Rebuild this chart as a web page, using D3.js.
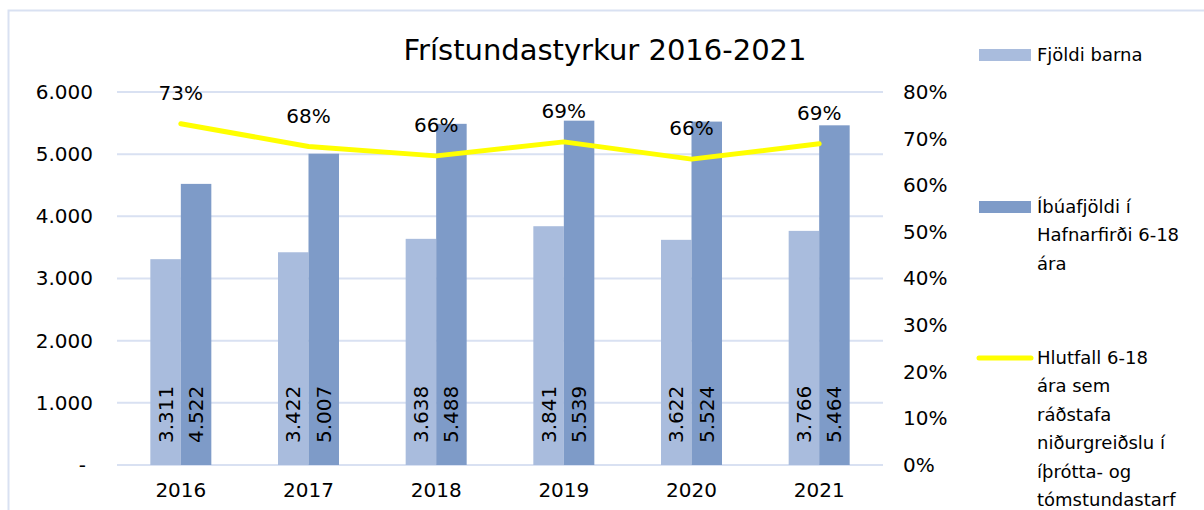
<!DOCTYPE html>
<html>
<head>
<meta charset="utf-8">
<script src="https://cdn.jsdelivr.net/npm/d3@7"></script>
<style>
  body { margin: 0; background: #fff; }
  svg text { font-family: "DejaVu Sans", sans-serif; fill: #000; }
</style>
</head>
<body>
<svg id="chart" width="1204" height="510"></svg>
<script>
var years = ["2016", "2017", "2018", "2019", "2020", "2021"];
var fjoldiBarna = [3311, 3422, 3638, 3841, 3622, 3766];
var ibuafjoldi = [4522, 5007, 5488, 5539, 5524, 5464];
var hlutfall = [0.732, 0.683, 0.663, 0.693, 0.656, 0.689];
var leftTicks = [0, 1000, 2000, 3000, 4000, 5000, 6000];
var rightTicks = [0, 0.1, 0.2, 0.3, 0.4, 0.5, 0.6, 0.7, 0.8];

var legendNames = [
    ["Fjöldi barna"],
    ["Íbúafjöldi í", "Hafnarfirði 6-18", "ára"],
    ["Hlutfall 6-18", "ára sem", "ráðstafa", "niðurgreiðslu í", "íþrótta- og", "tómstundastarf"]
];

var colLight = "#a9bcdd", colDark = "#7e9bc8", colLine = "#ffff00", colGrid = "#d9e1f2";

var svg = d3.select("#chart");
var isl = d3.formatLocale({ decimal: ",", thousands: ".", grouping: [3], currency: ["", " kr."] });
var fmtNum = isl.format(",.0f");
var fmtPct = d3.format(".0%");

// chart frame
svg.append("path").attr("d", "M8.5,510 V10.5 H1204")
    .attr("fill", "none").attr("stroke", colGrid).attr("stroke-width", 2);

var x = d3.scaleBand().domain(years).range([117, 883]).paddingInner(0).paddingOuter(0);
var y = d3.scaleLinear().domain([0, 6000]).range([465, 92]);
var y2 = d3.scaleLinear().domain([0, 0.8]).range([465, 92]);
var barW = 30.5;

// gridlines
svg.append("g").selectAll("line").data(leftTicks).enter().append("line")
    .attr("x1", 117).attr("x2", 883)
    .attr("y1", d => y(d)).attr("y2", d => y(d))
    .attr("stroke", colGrid).attr("stroke-width", 2);

// left axis
var yAxis = d3.axisLeft(y).tickValues(leftTicks).tickSize(0).tickPadding(0)
    .tickFormat(d => d === 0 ? "-" : fmtNum(d));
var gy = svg.append("g").attr("transform", "translate(93,0)").call(yAxis);
gy.select(".domain").remove();
gy.selectAll("text").attr("font-size", 20).style("font-family", "DejaVu Sans").attr("dx", d => d === 0 ? -7 : 0);

// right axis
var y2Axis = d3.axisRight(y2).tickValues(rightTicks).tickSize(0).tickPadding(0).tickFormat(fmtPct);
var gy2 = svg.append("g").attr("transform", "translate(903,0)").call(y2Axis);
gy2.select(".domain").remove();
gy2.selectAll("text").attr("font-size", 20).style("font-family", "DejaVu Sans");

// bottom axis
var xAxis = d3.axisBottom(x).tickSize(0).tickPadding(18);
var gx = svg.append("g").attr("transform", "translate(0,465)").call(xAxis);
gx.select(".domain").remove();
gx.selectAll("text").attr("font-size", 20).style("font-family", "DejaVu Sans");

// bars
var rows = years.map((yr, i) => ({ yr: yr, a: fjoldiBarna[i], b: ibuafjoldi[i], p: hlutfall[i] }));
var cx = d => x(d.yr) + x.bandwidth() / 2;

var bars = svg.append("g");
bars.selectAll("rect.a").data(rows).enter().append("rect").attr("class", "a")
    .attr("x", d => cx(d) - barW).attr("width", barW)
    .attr("y", d => y(d.a)).attr("height", d => y(0) - y(d.a))
    .attr("fill", colLight);
bars.selectAll("rect.b").data(rows).enter().append("rect").attr("class", "b")
    .attr("x", d => cx(d)).attr("width", barW)
    .attr("y", d => y(d.b)).attr("height", d => y(0) - y(d.b))
    .attr("fill", colDark);

// bar labels, rotated, inside base
bars.selectAll("text.a").data(rows).enter().append("text").attr("class", "a")
    .attr("transform", d => "translate(" + (cx(d) - barW / 2 + 7) + "," + (y(0) - 22) + ") rotate(-90)")
    .attr("font-size", 20).text(d => fmtNum(d.a));
bars.selectAll("text.b").data(rows).enter().append("text").attr("class", "b")
    .attr("transform", d => "translate(" + (cx(d) + barW / 2 + 7) + "," + (y(0) - 22) + ") rotate(-90)")
    .attr("font-size", 20).text(d => fmtNum(d.b));

// line
var line = d3.line().x(d => cx(d)).y(d => y2(d.p));
svg.append("path").datum(rows).attr("d", line)
    .attr("fill", "none").attr("stroke", colLine).attr("stroke-width", 5)
    .attr("stroke-linecap", "round").attr("stroke-linejoin", "round");

svg.append("g").selectAll("text").data(rows).enter().append("text")
    .attr("x", cx).attr("y", d => y2(d.p) - 24)
    .attr("text-anchor", "middle").attr("font-size", 20)
    .text(d => fmtPct(d.p));

// title
svg.append("text").attr("x", 605).attr("y", 60).attr("text-anchor", "middle")
    .attr("font-size", 29).text("Frístundastyrkur 2016-2021");

// legend
var legY = [55, 207, 358];
var leg = svg.append("g").selectAll("g").data(legendNames).enter().append("g")
    .attr("transform", (d, i) => "translate(0," + legY[i] + ")");
leg.each(function(d, i) {
    var g = d3.select(this);
    if (i < 2) {
        g.append("rect").attr("x", 979).attr("y", -6).attr("width", 52).attr("height", 12)
            .attr("fill", i === 0 ? colLight : colDark);
    } else {
        g.append("line").attr("x1", 979).attr("x2", 1031).attr("y1", 0).attr("y2", 0)
            .attr("stroke", colLine).attr("stroke-width", 5).attr("stroke-linecap", "round");
    }
    g.selectAll("text").data(d).enter().append("text")
        .attr("x", 1037).attr("y", (t, k) => k * 28.4 + 6)
        .attr("font-size", 18).text(t => t);
});
</script>
</body>
</html>
